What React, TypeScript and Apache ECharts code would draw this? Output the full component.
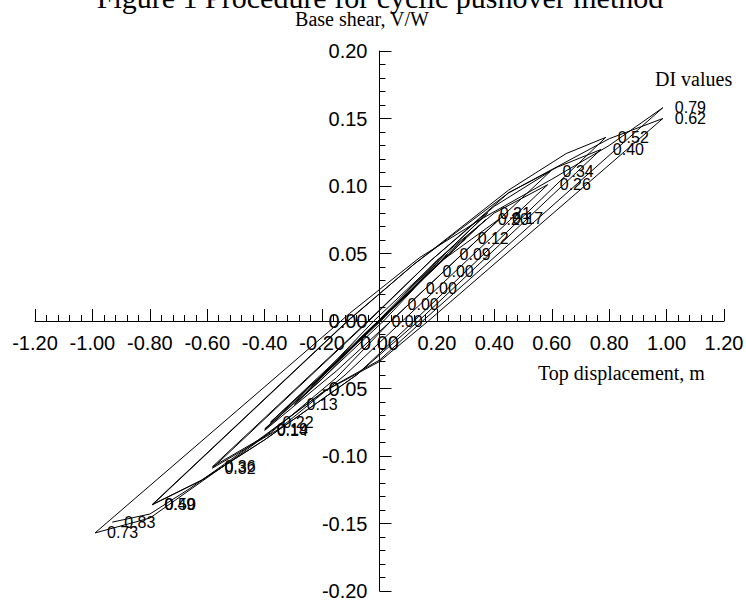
import React, { useEffect, useRef } from "react";
import * as echarts from "echarts";

// Hysteresis path: [top displacement (m), base shear V/W]
const elasticCycles: [number, number][] = [
  [0, 0],
  [0.056, 0.012], [-0.055, -0.011],
  [0.119, 0.024], [-0.118, -0.024],
  [0.178, 0.037], [-0.178, -0.036],
  [0.237, 0.049], [-0.236, -0.048],
  [0.3, 0.061],
  [0.0, 0.001], [-0.296, -0.062],
];

const cycles040: [number, number][] = [
  [0.014, 0], [0.2, 0.042], [0.42, 0.076],
  [0.04, 0], [-0.15, -0.037], [-0.4, -0.081],
  [0.005, 0], [0.2, 0.043], [0.37, 0.075],
  [-0.005, 0], [-0.2, -0.043], [-0.4, -0.08],
  [0.0, 0], [0.2, 0.044], [0.377, 0.08],
  [-0.02, 0], [-0.2, -0.04], [-0.38, -0.075],
];

const cycles060: [number, number][] = [
  [-0.005, 0], [0.2, 0.045], [0.4, 0.08], [0.586, 0.101],
  [0.08, 0], [-0.12, -0.04], [-0.35, -0.08], [-0.582, -0.109],
  [-0.037, 0], [0.18, 0.045], [0.4, 0.085], [0.596, 0.111],
  [0.04, 0], [-0.15, -0.042], [-0.38, -0.083], [-0.582, -0.108],
];

const cycles080: [number, number][] = [
  [-0.04, 0], [0.18, 0.045], [0.45, 0.095], [0.62, 0.114], [0.771, 0.127],
  [0.136, 0], [-0.08, -0.04], [-0.4, -0.088], [-0.62, -0.118], [-0.792, -0.136],
  [-0.112, 0], [0.12, 0.042], [0.45, 0.097], [0.65, 0.124], [0.788, 0.136],
  [0.12, 0], [-0.08, -0.04], [-0.4, -0.088], [-0.62, -0.118], [-0.79, -0.136],
];

const cycles100: [number, number][] = [
  [-0.11, 0], [0.12, 0.042], [0.45, 0.095], [0.8, 0.135], [0.987, 0.15],
  [0.17, 0], [0.0, -0.03], [-0.2, -0.053], [-0.46, -0.095], [-0.66, -0.125], [-0.8, -0.146], [-0.991, -0.157],
  [-0.134, 0], [-0.105, 0.0055], [0.14, 0.047], [0.35, 0.075], [0.6, 0.105], [0.8, 0.13], [0.987, 0.158],
  [0.15, 0], [0.0, -0.029], [-0.185, -0.051], [-0.46, -0.094], [-0.66, -0.124], [-0.8, -0.143], [-0.931, -0.149],
];

// DI values labelled at cycle peaks
const diPositive: [number, number, string][] = [
  [0, 0, "0.00"],
  [0.056, 0.012, "0.00"],
  [0.119, 0.024, "0.00"],
  [0.178, 0.037, "0.00"],
  [0.237, 0.049, "0.09"],
  [0.3, 0.061, "0.12"],
  [0.42, 0.076, "0.17"],
  [0.37, 0.075, "0.20"],
  [0.377, 0.08, "0.21"],
  [0.586, 0.101, "0.26"],
  [0.596, 0.111, "0.34"],
  [0.771, 0.127, "0.40"],
  [0.788, 0.136, "0.52"],
  [0.987, 0.15, "0.62"],
  [0.987, 0.158, "0.79"],
];

const diNegative: [number, number, string][] = [
  [-0.296, -0.062, "0.13"],
  [-0.4, -0.081, "0.14"],
  [-0.4, -0.08, "0.19"],
  [-0.38, -0.075, "0.22"],
  [-0.582, -0.109, "0.32"],
  [-0.582, -0.108, "0.36"],
  [-0.792, -0.136, "0.49"],
  [-0.79, -0.136, "0.50"],
  [-0.991, -0.157, "0.73"],
  [-0.931, -0.149, "0.83"],
];

const SANS = "'Liberation Sans', Arial, sans-serif";
const SERIF = "'Liberation Serif', 'Times New Roman', serif";

const fmt = (v: number) => (Math.abs(v) < 1e-9 ? "0.00" : v.toFixed(2));

const GRID_LEFT = 35;
const GRID_RIGHT = 22;
const GRID_TOP = 51;
const GRID_BOTTOM = 10;
const W = 746;
const H = 601;

export default function App() {
  const ref = useRef<HTMLDivElement>(null);
  useEffect(() => {
    if (!ref.current) return;
    const chart = echarts.init(ref.current, null, { renderer: "svg" });
    const path = [...elasticCycles, ...cycles040, ...cycles060, ...cycles080, ...cycles100];
    const labels = [...diPositive, ...diNegative].map(([x, y, t]) => ({ value: [x, y], name: t }));
    const plotW = W - GRID_LEFT - GRID_RIGHT;
    const plotH = H - GRID_TOP - GRID_BOTTOM;
    const axisCommon = {
      type: "value",
      axisLine: { show: true, onZero: false, lineStyle: { color: "#000", width: 1 } },
      axisTick: { show: true, inside: true, length: 12, lineStyle: { color: "#000", width: 1 } },
      minorTick: { show: true, splitNumber: 5, length: 6, lineStyle: { color: "#000", width: 1 } },
      splitLine: { show: false },
      minorSplitLine: { show: false },
      axisLabel: { color: "#000", fontSize: 20, fontFamily: SANS, margin: 12, formatter: fmt },
    };
    chart.setOption({
      animation: false,
      backgroundColor: "#fff",
      grid: {
        left: GRID_LEFT,
        right: GRID_RIGHT,
        top: GRID_TOP,
        bottom: GRID_BOTTOM,
        containLabel: false,
        outerBoundsMode: "none",
      },
      xAxis: { ...axisCommon, position: "bottom", offset: -plotH / 2, min: -1.2, max: 1.2, interval: 0.2 },
      yAxis: { ...axisCommon, position: "left", offset: -plotW / 2, min: -0.2, max: 0.2, interval: 0.05 },
      series: [
        {
          type: "line",
          data: path,
          showSymbol: false,
          symbol: "none",
          silent: true,
          lineStyle: { color: "#000", width: 1 },
          z: 2,
        },
        {
          type: "scatter",
          data: labels,
          symbolSize: 1,
          itemStyle: { color: "rgba(0,0,0,0)", opacity: 1 },
          silent: true,
          z: 3,
          label: {
            show: true,
            position: "right",
            distance: 11.5,
            formatter: (p: any) => p.name,
            color: "#000",
            opacity: 1,
            fontSize: 16,
            fontFamily: SANS,
          },
        },
      ],
      graphic: [
        {
          type: "text",
          x: 380,
          y: -3,
          style: {
            text: "Figure 1 Procedure for cyclic pushover method",
            font: `30px ${SERIF}`,
            fill: "#000",
            textAlign: "center",
            textVerticalAlign: "middle",
          },
        },
        {
          type: "text",
          x: 362,
          y: 19,
          style: {
            text: "Base shear, V/W",
            font: `20px ${SERIF}`,
            fill: "#000",
            textAlign: "center",
            textVerticalAlign: "middle",
          },
        },
        {
          type: "text",
          x: 655,
          y: 79,
          style: {
            text: "DI values",
            font: `20px ${SERIF}`,
            fill: "#000",
            textAlign: "left",
            textVerticalAlign: "middle",
          },
        },
        {
          type: "text",
          x: 538,
          y: 373,
          style: {
            text: "Top displacement, m",
            font: `20px ${SERIF}`,
            fill: "#000",
            textAlign: "left",
            textVerticalAlign: "middle",
          },
        },
      ],
    });
    return () => chart.dispose();
  }, []);
  return (
    <div
      ref={ref}
      style={{ position: "absolute", left: 0, top: 0, width: W, height: H, background: "#fff" }}
    />
  );
}
